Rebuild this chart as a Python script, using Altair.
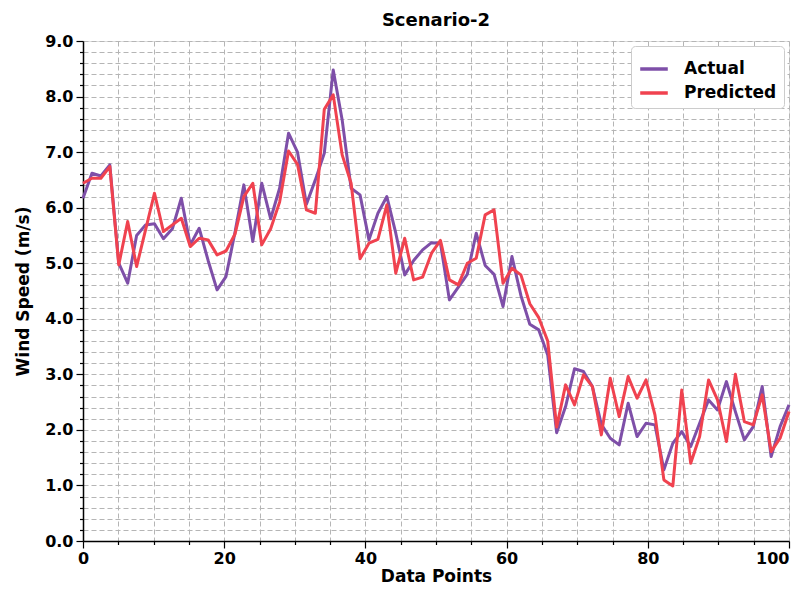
import altair as alt
import pandas as pd

actual = [6.17, 6.62, 6.57, 6.77, 5.0, 4.64, 5.5, 5.69, 5.71, 5.44,
          5.62, 6.17, 5.33, 5.63, 5.05, 4.52, 4.76, 5.55, 6.41, 5.39,
          6.44, 5.8, 6.35, 7.34, 7.0, 6.06, 6.5, 6.98, 8.48, 7.58,
          6.35, 6.23, 5.42, 5.9, 6.2, 5.54, 4.79, 5.05, 5.24, 5.37,
          5.36, 4.34, 4.57, 4.8, 5.54, 4.96, 4.8, 4.22, 5.12, 4.42,
          3.9, 3.8, 3.35, 1.95, 2.42, 3.1, 3.05, 2.78, 2.1, 1.85,
          1.73, 2.48, 1.88, 2.12, 2.09, 1.28, 1.76, 1.97, 1.7, 2.12,
          2.54, 2.36, 2.87, 2.33, 1.82, 2.06, 2.78, 1.52, 2.06, 2.45]

predicted = [6.44, 6.53, 6.53, 6.74, 4.97, 5.75, 4.94, 5.6, 6.26, 5.57,
             5.69, 5.81, 5.3, 5.45, 5.42, 5.15, 5.22, 5.52, 6.2, 6.44,
             5.33, 5.62, 6.1, 7.02, 6.78, 5.96, 5.9, 7.77, 8.03, 6.95,
             6.44, 5.08, 5.36, 5.43, 6.05, 4.82, 5.45, 4.7, 4.75, 5.18,
             5.41, 4.7, 4.61, 5.0, 5.09, 5.87, 5.96, 4.64, 4.91, 4.79,
             4.27, 4.02, 3.6, 2.05, 2.81, 2.45, 2.99, 2.78, 1.91, 2.93,
             2.24, 2.96, 2.57, 2.9, 2.27, 1.1, 0.99, 2.72, 1.4, 1.88,
             2.9, 2.54, 1.79, 3.0, 2.15, 2.09, 2.63, 1.61, 1.85, 2.33]

series_names = ["Actual", "Predicted"]
series_colors = ["#7e4fa8", "#f0424f"]

x_grid_values = list(range(0, 101, 5))
y_grid_values = [round(i * 0.2, 1) for i in range(46)]

n = len(actual)
rows = []
for i in range(n):
    rows.append({"idx": i, "value": actual[i], "series": "Actual", "n": n})
for i in range(n):
    rows.append({"idx": i, "value": predicted[i], "series": "Predicted", "n": n})
df = pd.DataFrame(rows)

FONT = "DejaVu Sans"

common_axis = dict(
    labelOverlap=False,
    labelFlush=False,
    tickColor="black",
    tickWidth=1.2,
    grid=True,
    gridDash=[5, 3],
    gridColor="#b5b5b5",
    gridWidth=1,
    domainColor="black",
    domainWidth=1.5,
    labelFont=FONT,
    labelFontSize=16,
    labelFontWeight="bold",
    labelColor="black",
    titleFont=FONT,
    titleFontSize=17,
    titleFontWeight="bold",
    titleColor="black",
)

x_axis = alt.Axis(
    values=x_grid_values,
    labelExpr="datum.value % 20 === 0 ? format(datum.value, 'd') : ''",
    labelAlign={"condition": {"test": "datum.value === 100", "value": "right"}, "value": "center"},
    tickSize={"condition": {"test": "datum.value % 20 === 0", "value": 7}, "value": 3.5},
    labelPadding=2,
    title="Data Points",
    titlePadding=2,
    **common_axis,
)

y_axis = alt.Axis(
    values=y_grid_values,
    labelExpr="abs(datum.value - round(datum.value)) < 0.001 ? format(datum.value, '.1f') : ''",
    tickSize={"condition": {"test": "abs(datum.value - round(datum.value)) < 0.001", "value": 7}, "value": 3.5},
    labelPadding=3,
    title="Wind Speed (m/s)",
    titlePadding=12,
    **common_axis,
)

color_scale = alt.Scale(domain=series_names, range=series_colors)

base = alt.Chart(df).transform_calculate(
    xpos="datum.idx * 100 / (datum.n - 1)"
)

def line_for(name):
    return base.transform_filter(alt.datum.series == name).mark_line(
        strokeWidth=3, strokeJoin="round"
    ).encode(
        x=alt.X("xpos:Q", scale=alt.Scale(domain=[0, 100], nice=False), axis=x_axis),
        y=alt.Y("value:Q", scale=alt.Scale(domain=[0, 9], nice=False), axis=y_axis),
        color=alt.Color(
            "series:N",
            scale=color_scale,
            legend=alt.Legend(
                title=None,
                orient="top-right",
                offset=5,
                symbolType="stroke",
                symbolStrokeWidth=3.5,
                symbolSize=760,
                labelFont=FONT,
                labelFontSize=17,
                labelFontWeight="bold",
                labelColor="black",
                labelOffset=14,
                rowPadding=0,
                padding=7,
                fillColor="white",
                strokeColor="#cccccc",
                cornerRadius=4,
            ),
        ),
    )

chart = alt.layer(line_for("Actual"), line_for("Predicted")).properties(
    width=706,
    height=500,
    title=alt.TitleParams(
        "Scenario-2", font=FONT, fontSize=18, fontWeight="bold", color="black",
        anchor="middle", offset=3,
    ),
    autosize=alt.AutoSizeParams(type="none"),
    padding={"left": 75, "top": 33, "right": 7, "bottom": 46},
).configure_view(stroke="black", strokeWidth=1.5).configure(background="white")

chart.save("out.html", embed_options={"renderer": "svg", "actions": False})
